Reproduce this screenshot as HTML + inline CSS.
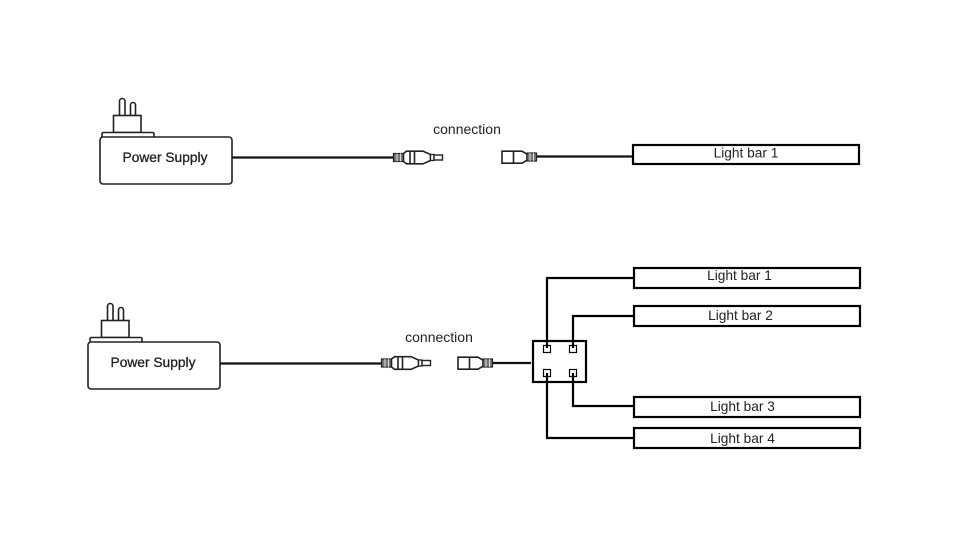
<!DOCTYPE html>
<html><head><meta charset="utf-8"><style>
html,body{margin:0;padding:0;background:#fff}
svg{display:block}
text{font-family:"Liberation Sans",sans-serif;fill:#222}
</style></head><body>
<svg width="960" height="543" viewBox="0 0 960 543" xmlns="http://www.w3.org/2000/svg">
<defs>
<g id="ad" fill="#fff" stroke="#222" stroke-width="1.600">
<rect x="119.500" y="98.500" width="5.500" height="20" rx="2.700"/>
<rect x="130.500" y="102.500" width="5" height="16" rx="2.500"/>
<rect x="113.500" y="115.500" width="27.500" height="17"/>
<path d="M102 137v-3q0-1.500 1.500-1.500h49q1.500 0 1.500 1.500v3"/>
<rect x="100" y="137" width="132" height="47" rx="3"/>
</g>
<g id="male" stroke="#222" fill="#fff">
<rect x="393.500" y="153.500" width="10" height="8" fill="#777" stroke-width="1.200"/>
<path d="M397 153.500v8M400.500 153.500v8" stroke="#ddd" stroke-width="1"/>
<path d="M403.500 153.500l3-2.300h16.500l7.500 3.300v6l-7.500 3.300h-16.500l-3-2.300z" stroke-width="1.600"/>
<path d="M410 151.500v12M414.500 151.500v12" stroke-width="1.600"/>
<rect x="430.500" y="154.500" width="3.500" height="6" stroke-width="1.300"/>
<rect x="434" y="155" width="8.500" height="5" stroke-width="1.400"/>
</g>
<g id="female" stroke="#222" fill="#fff">
<path d="M502 151.200h20l5 3v6l-5 3h-20z" stroke-width="1.600"/>
<path d="M513.500 151.200v12" stroke-width="1.600"/>
<rect x="527" y="153" width="9.500" height="8" fill="#777" stroke-width="1.200"/>
<path d="M530 153v8M533.500 153v8" stroke="#ddd" stroke-width="1"/>
</g>
</defs>

<!-- top row -->
<use href="#ad"/>
<text x="165" y="162" font-size="14" text-anchor="middle" textLength="85" lengthAdjust="spacingAndGlyphs" stroke="#222" stroke-width=".3">Power Supply</text>
<path d="M232 157.500H393" stroke="#111" stroke-width="2.200" fill="none"/>
<use href="#male"/>
<text x="467" y="134" font-size="14" text-anchor="middle">connection</text>
<use href="#female"/>
<path d="M537 156.500H633" stroke="#111" stroke-width="2.200" fill="none"/>
<rect x="633" y="145" width="226" height="19" fill="#fff" stroke="#000" stroke-width="2.200"/>
<text x="746" y="157.500" font-size="13.700" text-anchor="middle">Light bar 1</text>

<!-- bottom row -->
<g transform="translate(-12 205)"><use href="#ad"/></g>
<text x="153" y="367" font-size="14" text-anchor="middle" textLength="85" lengthAdjust="spacingAndGlyphs" stroke="#222" stroke-width=".3">Power Supply</text>
<path d="M220 363.500H381" stroke="#111" stroke-width="2.200" fill="none"/>
<g transform="translate(-12 205.500)"><use href="#male"/></g>
<text x="439" y="342" font-size="14" text-anchor="middle">connection</text>
<g transform="translate(-44 206)"><use href="#female"/></g>
<path d="M493 363H531" stroke="#111" stroke-width="2.200" fill="none"/>

<g fill="none" stroke="#000" stroke-width="2.200">
<path d="M634 278H547V349"/>
<path d="M634 316H573V349"/>
<path d="M573 373V406H634"/>
<path d="M547 373V438H634"/>
<rect x="533" y="341" width="53" height="41"/>
</g>
<g fill="#fff" stroke="#000" stroke-width="1.200">
<rect x="543.500" y="345.500" width="7" height="7"/>
<rect x="569.500" y="345.500" width="7" height="7"/>
<rect x="543.500" y="369.500" width="7" height="7"/>
<rect x="569.500" y="369.500" width="7" height="7"/>
</g>
<path d="M547 345v3M573 345v3M547 373v4M573 373v4" stroke="#000" stroke-width="2.200" fill="none"/>

<g fill="#fff" stroke="#000" stroke-width="2.200">
<rect x="634" y="268" width="226" height="20"/>
<rect x="634" y="306" width="226" height="20"/>
<rect x="634" y="397" width="226" height="20"/>
<rect x="634" y="428" width="226" height="20"/>
</g>
<g font-size="13.700" text-anchor="middle">
<text x="739.500" y="280">Light bar 1</text>
<text x="740.500" y="320">Light bar 2</text>
<text x="742.500" y="411">Light bar 3</text>
<text x="742.500" y="443">Light bar 4</text>
</g>
</svg>
</body></html>
